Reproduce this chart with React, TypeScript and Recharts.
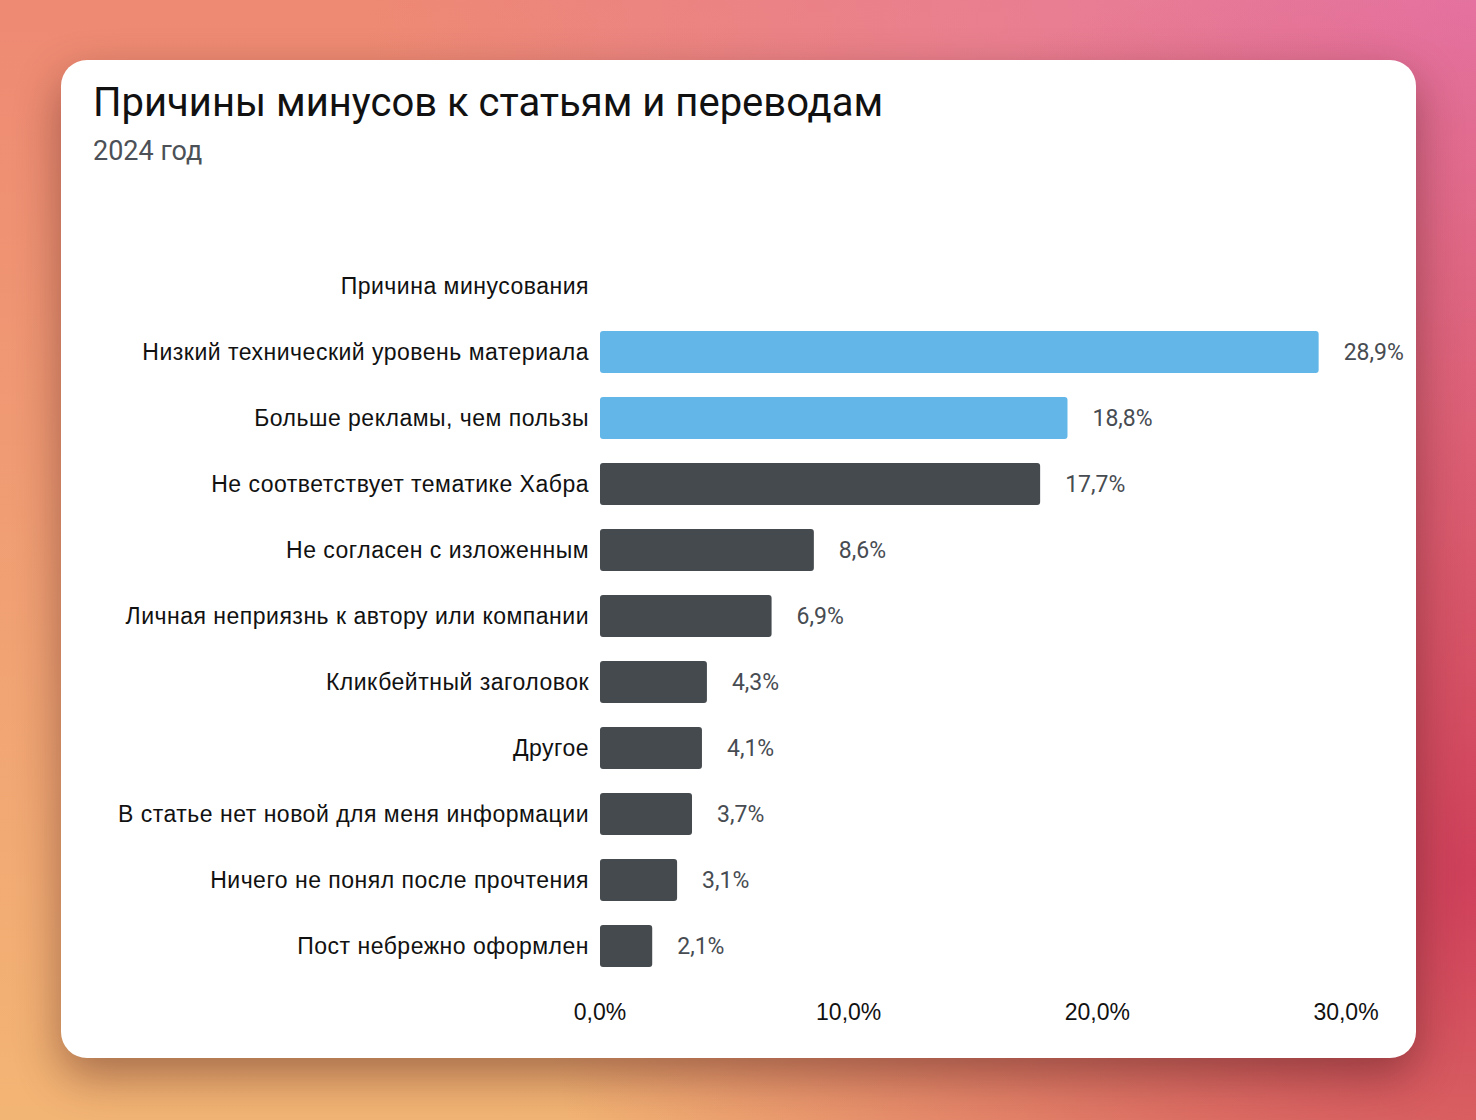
import React from 'react';
import { BarChart, Bar, XAxis, YAxis, LabelList, Cell } from 'recharts';

const reasons = [
  'Причина минусования',
  'Низкий технический уровень материала',
  'Больше рекламы, чем пользы',
  'Не соответствует тематике Хабра',
  'Не согласен с изложенным',
  'Личная неприязнь к автору или компании',
  'Кликбейтный заголовок',
  'Другое',
  'В статье нет новой для меня информации',
  'Ничего не понял после прочтения',
  'Пост небрежно оформлен',
];
const shares = [null, 28.9, 18.8, 17.7, 8.6, 6.9, 4.3, 4.1, 3.7, 3.1, 2.1];
const highlighted = [false, true, true, false, false, false, false, false, false, false, false];
const xTicks = [0, 10, 20, 30];

const BLUE = '#63b6e8';
const DARK = '#454a4f';

const data = reasons.map((reason, i) => ({ reason, share: shares[i] }));

const fmt = (v: any) =>
  v === null || v === undefined || v === '' ? '' : `${Number(v).toFixed(1).replace('.', ',')}%`;

const App = () => {
  return (
    <div
      style={{
        position: 'absolute',
        left: 0,
        top: 0,
        width: 1476,
        height: 1120,
        overflow: 'hidden',
        background:
          'radial-gradient(circle at 100% 78%, rgba(205,58,88,0.95), rgba(205,58,88,0) 55%),' +
          'radial-gradient(circle at 100% 0%, rgba(230,118,165,1), rgba(230,118,165,0) 60%),' +
          'linear-gradient(to top, #f3b574, #ee8973)',
      }}
    >
      <div
        style={{
          position: 'absolute',
          left: 61,
          top: 60,
          width: 1355,
          height: 998,
          background: '#fff',
          borderRadius: 26,
          boxShadow: '0 18px 45px rgba(70,25,25,0.45)',
        }}
      >
        <div
          style={{
            position: 'absolute',
            left: 32,
            top: 23,
            fontFamily: 'Roboto, sans-serif',
            fontSize: 40,
            lineHeight: 1,
            color: '#111',
            whiteSpace: 'nowrap',
          }}
        >
          Причины минусов к статьям и переводам
        </div>
        <div
          style={{
            position: 'absolute',
            left: 32,
            top: 78,
            fontFamily: 'Roboto, sans-serif',
            fontSize: 27,
            lineHeight: 1,
            color: '#4c5157',
          }}
        >
          2024 год
        </div>
        <div style={{ position: 'absolute', left: 0, top: 0 }}>
          <BarChart
            width={1355}
            height={998}
            data={data}
            layout="vertical"
            margin={{ top: 193, right: 70, left: 0, bottom: 0 }}
            barSize={42}
          >
            <XAxis
              type="number"
              domain={[0, 30]}
              ticks={xTicks}
              tickFormatter={fmt}
              axisLine={false}
              tickLine={false}
              tickSize={0}
              tickMargin={25}
              height={79}
              interval={0}
              tick={{ fill: '#111', fontSize: 23, fontFamily: '"Liberation Sans", Arial, sans-serif' }}
            />
            <YAxis
              type="category"
              dataKey="reason"
              width={539}
              axisLine={false}
              tickLine={false}
              tickSize={0}
              tickMargin={11}
              interval={0}
              tick={{
                fill: '#111',
                fontSize: 23,
                letterSpacing: 0.5,
                fontFamily: '"Liberation Sans", Arial, sans-serif',
              }}
            />
            <Bar dataKey="share" radius={3} isAnimationActive={false}>
              {data.map((d, i) => (
                <Cell key={d.reason} fill={highlighted[i] ? BLUE : DARK} />
              ))}
              <LabelList
                dataKey="share"
                position="right"
                offset={25}
                formatter={fmt}
                fill="#474c52"
                fontSize={23}
                fontFamily="Roboto, sans-serif"
              />
            </Bar>
          </BarChart>
        </div>
      </div>
    </div>
  );
};

export default App;
